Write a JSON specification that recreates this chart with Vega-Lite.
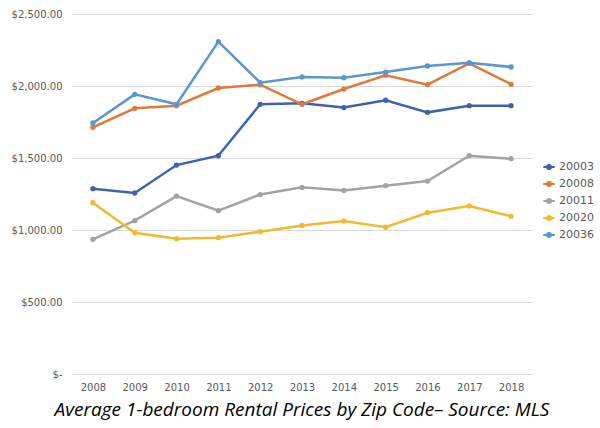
{
  "$schema": "https://vega.github.io/schema/vega-lite/v6.json",
  "autosize": "none",
  "width": 460,
  "height": 360,
  "padding": {"left": 72, "top": 14, "right": 68, "bottom": 54},
  "background": "white",
  "config": {
    "view": {"stroke": null},
    "font": "DejaVu Sans"
  },
  "title": {
    "text": "Average 1-bedroom Rental Prices by Zip Code– Source: MLS",
    "orient": "bottom",
    "anchor": "middle",
    "font": "Open Sans",
    "fontStyle": "italic",
    "fontWeight": "normal",
    "fontSize": 19,
    "color": "#000000",
    "offset": 9
  },
  "data": {
    "values": [
      {"year": "2008", "zip": "20003", "price": 1287},
      {"year": "2009", "zip": "20003", "price": 1257},
      {"year": "2010", "zip": "20003", "price": 1451},
      {"year": "2011", "zip": "20003", "price": 1516},
      {"year": "2012", "zip": "20003", "price": 1873},
      {"year": "2013", "zip": "20003", "price": 1880},
      {"year": "2014", "zip": "20003", "price": 1850},
      {"year": "2015", "zip": "20003", "price": 1901},
      {"year": "2016", "zip": "20003", "price": 1817},
      {"year": "2017", "zip": "20003", "price": 1863},
      {"year": "2018", "zip": "20003", "price": 1863},
      {"year": "2008", "zip": "20008", "price": 1713},
      {"year": "2009", "zip": "20008", "price": 1845},
      {"year": "2010", "zip": "20008", "price": 1863},
      {"year": "2011", "zip": "20008", "price": 1986},
      {"year": "2012", "zip": "20008", "price": 2009},
      {"year": "2013", "zip": "20008", "price": 1873},
      {"year": "2014", "zip": "20008", "price": 1979},
      {"year": "2015", "zip": "20008", "price": 2074},
      {"year": "2016", "zip": "20008", "price": 2009},
      {"year": "2017", "zip": "20008", "price": 2157},
      {"year": "2018", "zip": "20008", "price": 2012},
      {"year": "2008", "zip": "20011", "price": 935},
      {"year": "2009", "zip": "20011", "price": 1065},
      {"year": "2010", "zip": "20011", "price": 1235},
      {"year": "2011", "zip": "20011", "price": 1134},
      {"year": "2012", "zip": "20011", "price": 1246},
      {"year": "2013", "zip": "20011", "price": 1296},
      {"year": "2014", "zip": "20011", "price": 1275},
      {"year": "2015", "zip": "20011", "price": 1308},
      {"year": "2016", "zip": "20011", "price": 1340},
      {"year": "2017", "zip": "20011", "price": 1516},
      {"year": "2018", "zip": "20011", "price": 1495},
      {"year": "2008", "zip": "20020", "price": 1190},
      {"year": "2009", "zip": "20020", "price": 981},
      {"year": "2010", "zip": "20020", "price": 940},
      {"year": "2011", "zip": "20020", "price": 947},
      {"year": "2012", "zip": "20020", "price": 988},
      {"year": "2013", "zip": "20020", "price": 1032},
      {"year": "2014", "zip": "20020", "price": 1062},
      {"year": "2015", "zip": "20020", "price": 1019},
      {"year": "2016", "zip": "20020", "price": 1120},
      {"year": "2017", "zip": "20020", "price": 1167},
      {"year": "2018", "zip": "20020", "price": 1095},
      {"year": "2008", "zip": "20036", "price": 1743},
      {"year": "2009", "zip": "20036", "price": 1942},
      {"year": "2010", "zip": "20036", "price": 1873},
      {"year": "2011", "zip": "20036", "price": 2308},
      {"year": "2012", "zip": "20036", "price": 2023},
      {"year": "2013", "zip": "20036", "price": 2063},
      {"year": "2014", "zip": "20036", "price": 2058},
      {"year": "2015", "zip": "20036", "price": 2097},
      {"year": "2016", "zip": "20036", "price": 2139},
      {"year": "2017", "zip": "20036", "price": 2162},
      {"year": "2018", "zip": "20036", "price": 2132}
    ]
  },
  "mark": {"type": "line", "strokeWidth": 2.5, "point": {"filled": true, "size": 28}},
  "encoding": {
    "x": {
      "field": "year",
      "type": "ordinal",
      "scale": {"type": "point", "padding": 0.5},
      "axis": {
        "title": null,
        "labelAngle": 0,
        "ticks": false,
        "domain": false,
        "labelColor": "#595959",
        "labelFontSize": 10,
        "labelPadding": 8
      }
    },
    "y": {
      "field": "price",
      "type": "quantitative",
      "scale": {"domain": [0, 2500], "nice": false},
      "axis": {
        "title": null,
        "values": [0, 500, 1000, 1500, 2000, 2500],
        "labelExpr": "datum.value == 0 ? '$-\u00a0\u00a0\u00a0' : format(datum.value, '$,.2f')",
        "ticks": false,
        "domain": false,
        "gridColor": "#D9D9D9",
        "gridWidth": 1,
        "labelColor": "#595959",
        "labelFontSize": 10,
        "labelPadding": 10
      }
    },
    "color": {
      "field": "zip",
      "type": "nominal",
      "scale": {
        "domain": ["20003", "20008", "20011", "20020", "20036"],
        "range": ["#3F62B0", "#E07A3A", "#A3A3A3", "#F0BA2C", "#5A96CF"]
      },
      "legend": {
        "title": null,
        "orient": "none",
        "legendX": 470,
        "legendY": 146,
        "symbolType": "M-1,0H1M-0.35,0A0.35,0.35,0,1,1,0.35,0A0.35,0.35,0,1,1,-0.35,0",
        "symbolSize": 130,
        "symbolStrokeWidth": 2,
        "labelColor": "#595959",
        "labelFontSize": 11,
        "rowPadding": 4,
        "labelOffset": 3
      }
    }
  }
}
